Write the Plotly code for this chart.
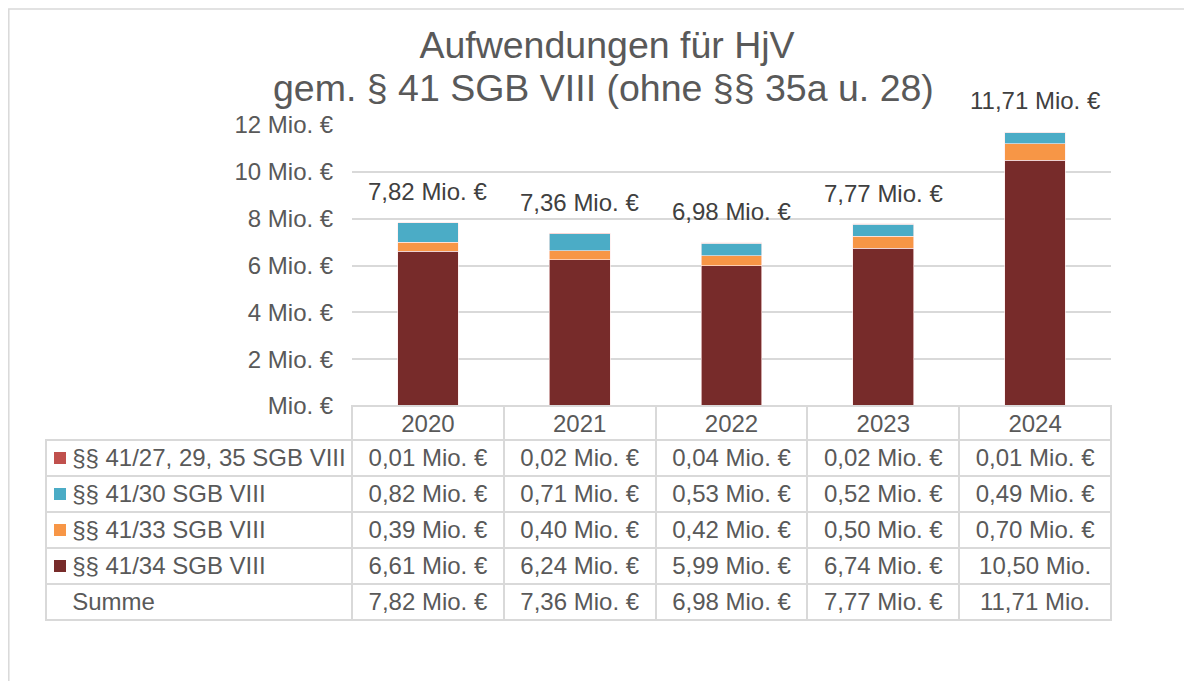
import plotly.graph_objects as go

# ---- data ----
years = ["2020", "2021", "2022", "2023", "2024"]
s_27 = [0.01, 0.02, 0.04, 0.02, 0.01]      # §§ 41/27, 29, 35 SGB VIII
s_30 = [0.82, 0.71, 0.53, 0.52, 0.49]      # §§ 41/30 SGB VIII
s_33 = [0.39, 0.40, 0.42, 0.50, 0.70]      # §§ 41/33 SGB VIII
s_34 = [6.61, 6.24, 5.99, 6.74, 10.50]     # §§ 41/34 SGB VIII
totals = [7.82, 7.36, 6.98, 7.77, 11.71]   # Summe
series_names = ["§§ 41/27, 29, 35 SGB VIII", "§§ 41/30 SGB VIII",
                "§§ 41/33 SGB VIII", "§§ 41/34 SGB VIII"]
sum_label = "Summe"
tick_vals = [0, 2, 4, 6, 8, 10, 12]
tick_text = ["Mio. €", "2 Mio. €", "4 Mio. €", "6 Mio. €", "8 Mio. €", "10 Mio. €", "12 Mio. €"]
title_line1 = "Aufwendungen für HjV"
title_line2 = "gem. § 41 SGB VIII (ohne §§ 35a u. 28)"

series_colors = ["#C0504D", "#4BACC6", "#F79646", "#772B2A"]  # same order as series_names

W, H = 1192, 681
FONT = "Liberation Sans, Arial, sans-serif"
GRAY = "#595959"
GRID = "#D9D9D9"
NB = "\u00a0"
CLEAR = "rgba(0,0,0,0)"
FS = 24


def fmt(v):
    return f"{v:.2f}".replace(".", ",") + " Mio. €"


def fmt_cell(v):
    # the table column is too narrow for two-digit values with the € sign
    s = f"{v:.2f}".replace(".", ",") + " Mio."
    if v < 10:
        s += " €"
    return s


def nb(s):
    return s.replace(" ", NB)


def px_x(x):
    return x / W


def px_y(y):
    return 1 - y / H


fig = go.Figure()

# stacked bars, bottom to top: 41/34, 41/33, 41/30, 41/27
series_values = [s_27, s_30, s_33, s_34]
for idx in [3, 2, 1, 0]:
    fig.add_trace(go.Bar(
        x=years, y=series_values[idx], name=series_names[idx],
        marker=dict(color=series_colors[idx], line=dict(color="rgba(255,235,235,0.8)", width=0.8)),
        showlegend=False, xaxis="x", yaxis="y"))

for i, t in enumerate(totals):
    fig.add_annotation(x=i, y=t, xref="x", yref="y", text=fmt(t), showarrow=False,
                       yanchor="middle", yshift=31,
                       font=dict(family=FONT, size=FS, color="#404040"))

# ---- data table ----
row_labels = series_names + [sum_label]
label_col = [NB * 2 + "\u2009" + nb(r) for r in row_labels]
cols = [label_col]
for i in range(len(years)):
    cols.append([nb(fmt_cell(s_27[i])), nb(fmt_cell(s_30[i])), nb(fmt_cell(s_33[i])),
                 nb(fmt_cell(s_34[i])), nb(fmt_cell(totals[i]))])

fig.add_trace(go.Table(
    domain=dict(x=[px_x(38), px_x(1103)], y=[0.0, px_y(398)]),
    columnwidth=[306] + [151.8] * 5,
    header=dict(values=[""] + years, height=34,
                align=["left"] + ["center"] * 5,
                fill=dict(color=CLEAR),
                line=dict(color=[CLEAR] + [GRID] * 5, width=2),
                font=dict(family=FONT, size=FS, color=GRAY)),
    cells=dict(values=cols, height=36,
               align=["left"] + ["center"] * 5,
               fill=dict(color=CLEAR),
               line=dict(color=GRID, width=2),
               font=dict(family=FONT, size=FS, color=GRAY)),
))

# legend keys in the table's first column
fig.add_trace(go.Scatter(
    x=[0] * len(series_names), y=series_names, mode="markers",
    marker=dict(symbol="square", size=12, color=series_colors, line=dict(width=0)),
    showlegend=False, hoverinfo="skip", cliponaxis=False, xaxis="x2", yaxis="y2"))

fig.add_annotation(x=px_x(595.5), y=px_y(80), xref="paper", yref="paper", text=title_line2,
                   showarrow=False, xanchor="center", yanchor="middle",
                   font=dict(family=FONT, size=37.5, color=GRAY))

fig.update_layout(
    template="none",
    width=W, height=H,
    margin=dict(l=0, r=0, t=0, b=0, pad=0),
    paper_bgcolor="white", plot_bgcolor="rgba(0,0,0,0)",
    barmode="stack", bargap=0.6,
    title=dict(text=title_line1, x=px_x(599), xanchor="center", y=px_y(37), yanchor="middle",
               font=dict(family=FONT, size=37.5, color=GRAY)),
    xaxis=dict(type="category", range=[-0.5, 4.5], domain=[px_x(344), px_x(1103)],
               showticklabels=False, showgrid=False, zeroline=False, showline=False,
               ticks="", automargin=False),
    yaxis=dict(domain=[px_y(398), px_y(117)], range=[0, 12], tickvals=tick_vals,
               ticktext=tick_text, showgrid=True, gridcolor=GRID, gridwidth=1.5,
               zeroline=False, showline=False, ticks="outside", ticklen=13,
               tickcolor=CLEAR, automargin=False,
               tickfont=dict(family=FONT, size=FS, color=GRAY)),
    xaxis2=dict(domain=[px_x(46), px_x(58)], range=[-1, 1], visible=False, anchor="y2"),
    yaxis2=dict(domain=[px_y(612), px_y(432)], type="category", categoryarray=row_labels,
                categoryorder="array", range=[len(row_labels) - 0.5, -0.5],
                visible=False, anchor="x2"),
    shapes=[dict(type="rect", xref="paper", yref="paper", x0=px_x(0.8), x1=1.02, y0=-0.02,
                 y1=px_y(1.0), line=dict(color=GRID, width=1.5), fillcolor=CLEAR, layer="below")],
)

fig.write_html("out.html")
